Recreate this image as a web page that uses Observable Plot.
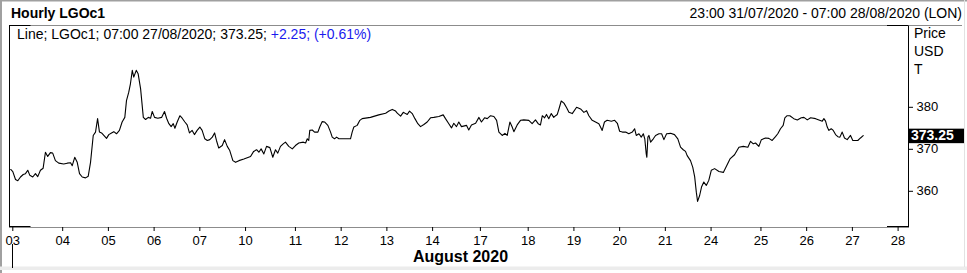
<!DOCTYPE html>
<html><head><meta charset="utf-8">
<script src="https://cdn.jsdelivr.net/npm/d3@7"></script>
<script src="https://cdn.jsdelivr.net/npm/@observablehq/plot@0.6"></script>
<style>html,body{margin:0;padding:0;background:#fff;overflow:hidden}</style>
</head><body><div id="chart"></div>
<script>
// hourly bar index (0 = first bar of Mon 03 Aug) and price (USD/T)
const bars = [-1,0,1.3,2.4,3.7,5.0,6.1,7.2,8.2,9.6,10.9,12.0,13.3,14.6,15.7,16.8,18.1,19.2,20.5,22.1,24.5,26.2,27.8,28.6,29.8,31.0,32.1,33.4,35.0,36.3,37.4,38.7,39.8,40.8,41.7,42.7,43.8,45.1,46.2,47.5,48.6,49.9,51.3,52.6,53.9,54.7,55.8,56.6,57.5,58.2,59.4,60.3,61.5,62.8,63.9,65.2,66.3,67.1,68.2,69.8,71.6,73.0,74.0,75.1,76.2,77.2,78.0,79.1,80.4,81.5,82.8,83.9,85.0,86.3,87.4,88.7,90.0,91.1,92.4,93.6,94.8,96.0,97.1,98.0,99.1,100.8,101.9,103.2,104.4,105.9,107.2,108.8,
111.2,114.4,115.9,117.3,118.4,119.5,120.8,122.1,123.7,125.1,126.4,127.5,128.8,130.1,131.2,132.8,134.5,136.0,137.6,139.8,140.9,141.7,142.4,142.9,144.1,145.2,146.8,147.7,148.9,150.1,151.6,152.9,153.7,154.8,155.8,156.9,162.5,163.3,164.1,165.7,167.0,168.1,172.1,176.1,179.4,181.0,182.6,184.2,185.0,186.6,187.9,189.0,189.8,190.9,192.2,193.5,194.9,196.2,197.8,199.4,201.0,202.6,205.0,207.1,208.2,209.8,211.1,212.2,213.5,214.6,215.9,
218.3,219.4,220.7,222.7,224.3,225.5,227.0,228.3,229.9,231.5,232.8,233.9,235.5,236.8,237.9,239.2,240.3,241.1,242.7,244.3,245.9,248.3,249.9,251.5,252.8,253.9,254.8,255.9,256.8,257.9,259.1,260.3,261.2,262.0,262.8,263.9,265.2,266.5,267.6,269.2,271.3,273.2,274.8,276.1,277.2,278.8,280.4,282.0,282.8,283.6,284.7,286.0,288.0,289.6,290.9,292.0,293.3,294.9,296.4,298.1,299.2,300.0,301.3,302.4,303.4,304.1,304.8,305.1,305.6,306.1,306.9,308.2,309.3,310.9,312.2,313.3,314.6,316.5,318.4,320.0,321.3,322.6,323.7,324.5,326.1,327.2,
328.1,328.9,329.5,330.5,331.4,332.5,333.7,334.9,336.1,337.7,339.8,341.9,343.5,345.1,347.3,349.4,351.5,353.7,355.0,356.3,357.4,359.0,360.2,362.2,363.8,365.4,367.0,368.1,369.4,370.7,371.5,372.6,373.9,375.8,377.5,379.4,380.7,382.3,383.9,386.3,387.9,389.5,390.3,391.1,391.9,392.7,393.8,394.8,395.9,397.0,398.0,399.1,400.2,401.5,403.1,404.2,405.5,406.6,407.9,409.2];
const prices = [365.2,364.7,362.8,362.5,363.4,364.0,364.2,365.0,363.8,363.4,364.2,363.5,365.0,365.5,369.3,368.3,369.2,369.1,367.3,366.7,366.5,366.7,366.8,366.1,368.1,366.9,364.2,363.4,363.2,363.6,366.9,373.3,374.1,377.3,374.1,373.9,373.3,372.6,373.5,373.9,374.2,373.7,374.5,376.5,377.6,381.6,383.6,385.6,388.8,387.2,388.8,388.0,384.4,377.6,377.1,377.6,377.4,379.0,377.6,377.4,377.6,379.0,377.4,376.1,375.4,376.1,375.0,376.5,378.0,377.4,376.5,375.8,373.9,374.5,373.5,374.5,375.3,374.5,372.5,372.1,372.3,372.9,373.9,372.1,370.3,370.9,372.3,370.7,369.7,367.3,366.9,367.3,
367.7,368.3,369.5,369.9,369.3,370.1,368.9,370.7,370.4,368.1,369.9,369.1,370.7,371.3,371.7,370.7,370.1,370.9,371.5,371.7,371.5,372.5,372.1,374.5,374.6,374.1,374.1,375.3,376.6,376.5,375.7,374.1,372.9,372.5,372.9,372.5,372.5,374.1,375.3,375.7,376.9,377.3,377.6,378.2,378.6,379.1,379.5,379.1,378.6,377.9,378.8,378.5,378.3,379.1,378.5,377.3,376.1,375.4,375.9,376.5,377.5,377.6,377.8,378.2,377.3,376.1,375.1,376.2,375.4,376.5,375.4,
375.7,374.6,375.8,376.2,377.6,376.5,377.5,377.3,378.0,377.8,376.9,374.1,373.3,373.8,373.3,376.5,375.3,374.2,375.8,376.9,377.0,376.9,376.1,377.0,376.1,375.8,378.0,377.5,378.3,377.3,378.5,377.6,378.0,378.3,379.6,381.5,381.0,379.9,378.8,378.5,380.0,379.6,378.8,379.2,378.0,376.9,376.5,376.1,375.3,374.5,376.5,376.9,376.7,376.9,376.2,374.3,374.1,374.1,373.7,374.1,374.9,373.3,373.7,372.9,373.7,372.5,368.9,368.1,372.9,373.3,371.7,372.5,373.3,373.7,373.7,372.3,373.7,373.8,373.5,372.5,370.5,369.9,369.5,368.5,367.3,365.7,
363.5,359.8,357.6,359.0,361.0,362.2,361.4,362.6,365.0,365.4,364.7,364.5,366.1,367.7,368.7,370.5,370.7,370.5,371.9,371.3,371.5,370.7,372.3,372.7,372.6,372.1,373.0,373.7,374.9,375.7,377.5,378.0,378.0,377.3,377.0,377.5,377.6,377.0,377.5,377.3,377.0,376.7,377.3,376.7,375.3,374.5,374.9,374.5,373.5,373.0,372.9,374.1,372.7,372.3,373.3,372.1,372.1,372.1,372.7,373.25];

const tickBars = [0,24,46,68,90,112,136,158,180,202,225,248,270,292,314,336,360,382,404,426];
const tickLabels = ["03","04","05","06","07","10","11","12","13","14","17","18","19","20","21","24","25","26","27","28"];
const yTicks = [360,370,380];
const xDomain = [-1.59, 431.0];
const yDomain = [351.38, 399.48];
const lastPrice = 373.25;
const titleText = "Hourly LGOc1";
const rangeText = "23:00 31/07/2020 - 07:00 28/08/2020 (LON)";
const legendMain = "Line; LGOc1; 07:00 27/08/2020; 373.25; ";
const legendChange = "+2.25; (+0.61%)";
const monthLabel = "August 2020";
const unitLines = ["Price","USD","T"];

const data = bars.map((b,i)=>({bar:b, price:prices[i]}));
const FONT = '"Liberation Sans", Arial, sans-serif';

const plot = Plot.plot({
  width:967, height:273,
  marginLeft:9, marginRight:59, marginTop:25, marginBottom:46,
  style:{fontFamily:FONT, background:"white", color:"black", overflow:"visible"},
  x:{domain:xDomain},
  y:{domain:yDomain},
  marks:[
    Plot.frame({stroke:"#8c8c8c"}),
    Plot.ruleX(xDomain, {stroke:"black"}),
    Plot.line(data,{x:"bar",y:"price",stroke:"black",strokeWidth:1.1}),
    Plot.axisX({ticks:tickBars, tickFormat:d=>tickLabels[tickBars.indexOf(d)], tickSize:4, tickPadding:4, fontSize:13, label:null, anchor:"bottom"}),
    Plot.axisY({ticks:yTicks, anchor:"right", tickSize:4, tickPadding:4, fontSize:13, label:null})
  ]
});
document.getElementById("chart").appendChild(plot);

const svg = d3.select(plot);
const xs = plot.scale("x"), ys = plot.scale("y");
const [fx0, fx1] = xs.range, [fy1, fy0] = ys.range;
const g = svg.append("g").attr("text-anchor","start");
// window borders
g.append("rect").attr("x",0).attr("y",0).attr("width",2).attr("height",273).attr("fill","#a0a0a0");
g.append("rect").attr("x",0).attr("y",0).attr("width",967).attr("height",1.5).attr("fill","#a0a0a0");
g.append("rect").attr("x",0).attr("y",266.5).attr("width",967).attr("height",3.5).attr("fill","#ececec");
g.append("rect").attr("x",964).attr("y",0).attr("width",1).attr("height",267).attr("fill","#e2e2e2");
// header separator continuation
g.append("line").attr("x1",fx1).attr("x2",962).attr("y1",fy0+0.5).attr("y2",fy0+0.5).attr("stroke","#8c8c8c");
// black corners
const cl = 21;
[[fx0, fx0+cl, fy0+0.5],[fx0, fx0+cl, fy1-0.5],[fx1-cl, fx1, fy0+0.5],[fx1-cl, fx1, fy1-0.5]].forEach(([a,b,y])=>{
  g.append("line").attr("x1",a).attr("x2",b+0.5).attr("y1",y).attr("y2",y).attr("stroke","black");
});
// month separator
const mx = Math.round(xs.apply(tickBars[0]))+0.5;
g.append("line").attr("x1",mx).attr("x2",mx).attr("y1",244).attr("y2",268).attr("stroke","black");
// texts
const txt = (x,y,s,opts={}) => g.append("text").attr("x",x).attr("y",y).attr("font-family",FONT)
  .attr("font-size",opts.size||14).attr("font-weight",opts.bold?"bold":"normal")
  .attr("text-anchor",opts.anchor||"start").attr("fill",opts.fill||"black").text(s);
txt(11,18,titleText,{bold:true,size:14});
txt(962,18,rangeText,{anchor:"end",size:14});
const lg = g.append("text").attr("x",17).attr("y",39).attr("font-family",FONT).attr("font-size",14)
  .attr("text-anchor","start").attr("fill","black").style("white-space","pre");
lg.append("tspan").text(legendMain);
lg.append("tspan").attr("fill","#1a1aee").text(legendChange);
unitLines.forEach((s,i)=>txt(914,38+i*18,s,{size:14}));
txt((fx0+fx1)/2+2,262,monthLabel,{bold:true,size:16,anchor:"middle"});
// last price box
const ly = ys.apply(lastPrice);
g.append("rect").attr("x",fx1+1).attr("y",ly-6.5).attr("width",55).attr("height",14.5).attr("fill","black");
txt(fx1+3,ly+5,lastPrice.toFixed(2),{bold:true,size:14,fill:"white"});
</script>
</body></html>
